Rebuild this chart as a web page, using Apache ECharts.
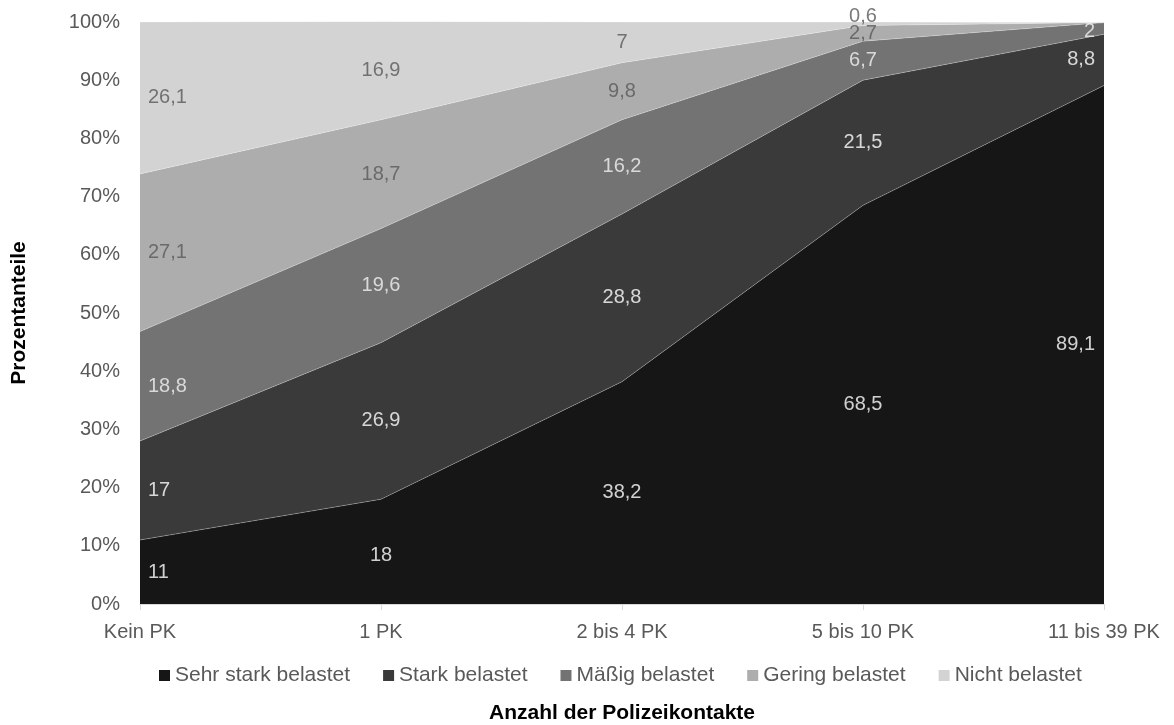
<!DOCTYPE html>
<html>
<head>
<meta charset="utf-8">
<script src="https://cdn.jsdelivr.net/npm/echarts@6/dist/echarts.min.js"></script>
<style>
html,body{margin:0;padding:0;background:#fff;}
#chart{width:1174px;height:725px;}
</style>
</head>
<body>
<div id="chart"></div>
<script>
const categories = ['Kein PK', '1 PK', '2 bis 4 PK', '5 bis 10 PK', '11 bis 39 PK'];
const seriesNames = ['Sehr stark belastet', 'Stark belastet', 'Mäßig belastet', 'Gering belastet', 'Nicht belastet'];
const sehrStark = [11, 18, 38.2, 68.5, 89.1];
const stark = [17, 26.9, 28.8, 21.5, 8.8];
const maessig = [18.8, 19.6, 16.2, 6.7, 2];
const gering = [27.1, 18.7, 9.8, 2.7, 0];
const nicht = [26.1, 16.9, 7, 0.6, 0];
const yTicks = [0, 10, 20, 30, 40, 50, 60, 70, 80, 90, 100];

const values = [sehrStark, stark, maessig, gering, nicht];
const colors = ['#161616', '#3a3a3a', '#737373', '#adadad', '#d3d3d3'];
const labelColors = ['#ffffff', '#ffffff', '#f2f2f2', '#595959', '#595959'];
const FONT = '"Liberation Sans", Arial, sans-serif';

const areaSeries = values.map((vals, si) => ({
  name: seriesNames[si],
  type: 'line',
  stack: 'total',
  data: vals,
  symbol: 'none',
  smooth: false,
  itemStyle: { color: colors[si] },
  lineStyle: { width: 0.8, color: 'rgba(255,255,255,0.35)' },
  areaStyle: { color: colors[si], opacity: 1 },
  emphasis: { disabled: true },
  silent: true,
  z: 2
}));

const labelData = [];
values.forEach((vals, si) => {
  vals.forEach((v, ci) => {
    if (v <= 0) return;
    let base = 0;
    for (let k = 0; k < si; k++) base += values[k][ci];
    const mid = base + v / 2;
    const lab = { color: labelColors[si] };
    if (ci === 0) { lab.align = 'left'; lab.offset = [8, 0]; }
    else if (ci === categories.length - 1) { lab.align = 'right'; lab.offset = [-9, 0]; }
    else { lab.align = 'center'; lab.offset = [0, 0]; }
    if (si === 4 && ci === 3) lab.offset = [0, -7];
    if (si === 2 && ci === 4) lab.offset = [-9, 3];
    if (si === 0 && ci === 1) lab.offset = [0, 4];
    labelData.push({ value: [ci, mid, v], label: lab });
  });
});

const chart = echarts.init(document.getElementById('chart'));
chart.setOption({
  animation: false,
  backgroundColor: '#fff',
  grid: { left: 140, right: 70, top: 22, bottom: 121, containLabel: false, outerBoundsMode: 'none' },
  legend: {
    data: seriesNames,
    top: 665,
    left: 159,
    padding: 0,
    icon: 'rect',
    itemWidth: 11,
    itemHeight: 11,
    itemGap: 33,
    textStyle: { fontFamily: FONT, fontSize: 21, color: '#595959' },
    selectedMode: false
  },
  xAxis: {
    type: 'category',
    data: categories,
    boundaryGap: false,
    name: 'Anzahl der Polizeikontakte',
    nameLocation: 'middle',
    nameGap: 99,
    nameTextStyle: { fontFamily: FONT, fontSize: 21, fontWeight: 'bold', color: '#000' },
    axisLine: { show: true, lineStyle: { color: '#d9d9d9', width: 1 } },
    axisTick: { show: true, alignWithLabel: true, length: 6, lineStyle: { color: '#d9d9d9' } },
    axisLabel: { fontFamily: FONT, fontSize: 20, color: '#595959', margin: 18 },
    splitLine: { show: false }
  },
  yAxis: {
    type: 'value',
    min: yTicks[0],
    max: yTicks[yTicks.length - 1],
    interval: 10,
    name: 'Prozentanteile',
    nameLocation: 'middle',
    nameRotate: 90,
    nameGap: 110,
    nameTextStyle: { fontFamily: FONT, fontSize: 21, fontWeight: 'bold', color: '#000' },
    axisLine: { show: false },
    axisTick: { show: false },
    axisLabel: { fontFamily: FONT, fontSize: 20, color: '#595959', margin: 20, formatter: '{value}%' },
    splitLine: { show: false }
  },
  series: areaSeries.concat([{
    type: 'scatter',
    data: labelData,
    symbolSize: 0,
    silent: true,
    z: 5,
    label: {
      show: true,
      position: 'inside',
      fontFamily: FONT,
      fontSize: 20,
      formatter: p => String(p.value[2]).replace('.', ',')
    }
  }])
});
</script>
</body>
</html>
